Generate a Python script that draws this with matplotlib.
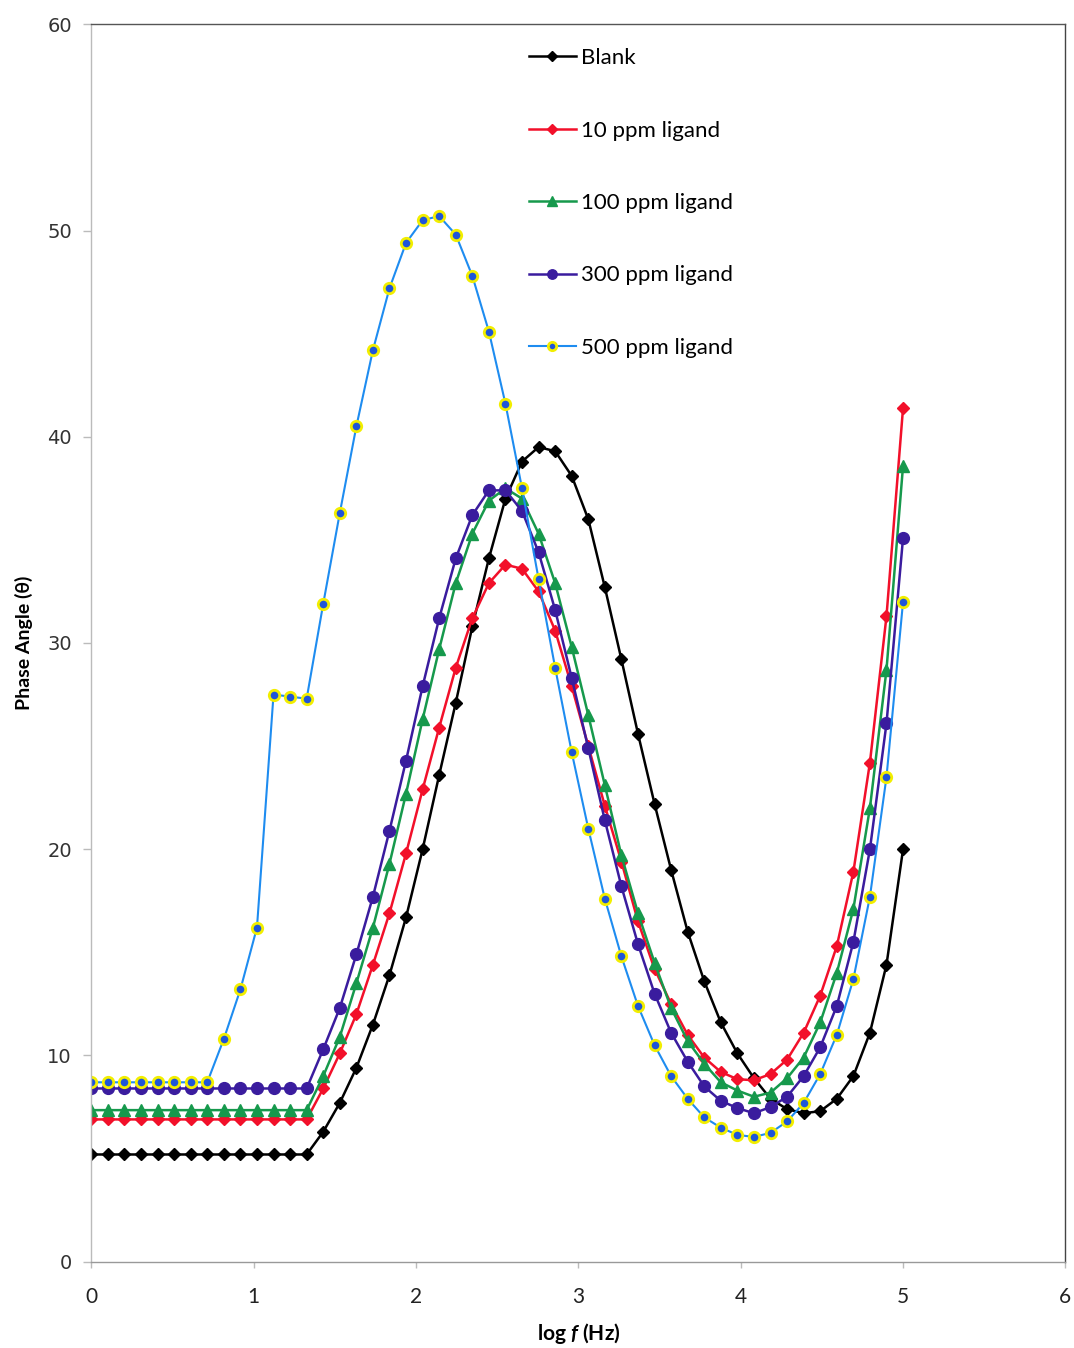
import numpy as np
import matplotlib
matplotlib.use("Agg")
import matplotlib.pyplot as plt

# ---------------- data ----------------
log_f = np.linspace(0, 5, 50)

blank = [5.2]*14 + [6.3, 7.7, 9.4, 11.5, 13.9, 16.7, 20.0, 23.6, 27.1, 30.8,
                    34.1, 37.0, 38.8, 39.5, 39.3, 38.1, 36.0, 32.7, 29.2, 25.6,
                    22.2, 19.0, 16.0, 13.6, 11.6, 10.1, 8.9, 7.9, 7.4, 7.2,
                    7.3, 7.9, 9.0, 11.1, 14.4, 20.0]
ppm10 = [6.9]*14 + [8.4, 10.1, 12.0, 14.4, 16.9, 19.8, 22.9, 25.9, 28.8, 31.2,
                    32.9, 33.8, 33.6, 32.5, 30.6, 27.9, 25.0, 22.1, 19.4, 16.5,
                    14.2, 12.5, 11.0, 9.9, 9.2, 8.85, 8.8, 9.1, 9.8, 11.1,
                    12.9, 15.3, 18.9, 24.2, 31.3, 41.4]
ppm100 = [7.35]*14 + [9.0, 10.9, 13.5, 16.2, 19.3, 22.7, 26.3, 29.7, 32.9, 35.3,
                      36.9, 37.5, 37.0, 35.3, 32.9, 29.8, 26.5, 23.1, 19.7, 16.9,
                      14.5, 12.3, 10.7, 9.6, 8.7, 8.3, 8.0, 8.2, 8.9, 9.9,
                      11.6, 14.0, 17.1, 22.0, 28.7, 38.6]
ppm300 = [8.4]*14 + [10.3, 12.3, 14.9, 17.7, 20.9, 24.3, 27.9, 31.2, 34.1, 36.2,
                     37.4, 37.4, 36.4, 34.4, 31.6, 28.3, 24.9, 21.4, 18.2, 15.4,
                     13.0, 11.1, 9.7, 8.5, 7.8, 7.45, 7.2, 7.5, 8.0, 9.0,
                     10.4, 12.4, 15.5, 20.0, 26.1, 35.1]
ppm500 = [8.7]*8 + [10.8, 13.2, 16.2, 27.5, 27.4, 27.3,
                    31.9, 36.3, 40.5, 44.2, 47.2, 49.4, 50.5, 50.7, 49.8, 47.8,
                    45.1, 41.6, 37.5, 33.1, 28.8, 24.7, 21.0, 17.6, 14.8, 12.4,
                    10.5, 9.0, 7.9, 7.0, 6.5, 6.15, 6.05, 6.25, 6.8, 7.7,
                    9.1, 11.0, 13.7, 17.7, 23.5, 32.0]

labels = ["Blank", "10 ppm ligand", "100 ppm ligand", "300 ppm ligand", "500 ppm ligand"]
x_ticks = [0, 1, 2, 3, 4, 5, 6]
y_ticks = [0, 10, 20, 30, 40, 50, 60]

# ---------------- figure ----------------
plt.rcParams['mathtext.fontset'] = 'custom'
plt.rcParams['mathtext.it'] = 'Lato:italic:bold'
plt.rcParams['mathtext.rm'] = 'Lato:bold'

fig = plt.figure(figsize=(10.74, 13.48), dpi=100)
ax = fig.add_axes([0.085, 0.064, 0.907, 0.918])

styles = [
    dict(color='black', marker='D', ms=6.5, mfc='black', mec='black', lw=1.8),
    dict(color='#F2102A', marker='D', ms=6, mfc='#F2102A', mec='#F2102A', lw=1.8),
    dict(color='#16994C', marker='^', ms=9, mfc='#16994C', mec='#16994C', lw=1.8),
    dict(color='#3A1C9E', marker='o', ms=8.5, mfc='#3A1C9E', mec='#3A1C9E', lw=1.8),
    dict(color='#1E8CF0', marker='o', ms=7.5, mfc='#1F55D8', mec='#F2EE00', mew=2.0, lw=1.5),
]
series = [blank, ppm10, ppm100, ppm300, ppm500]
for y, lab, st in zip(series, labels, styles):
    ax.plot(log_f, y, label=lab, **st)

ax.set_xlim(0, 6)
ax.set_ylim(0, 60)
ax.set_xticks(x_ticks)
ax.set_yticks(y_ticks)
ax.tick_params(axis='y', direction='out', length=6, width=1, color='#bbbbbb',
               labelsize=14, labelcolor='#333333', pad=8)
ax.tick_params(axis='x', direction='out', length=4, width=1, color='#bbbbbb',
               labelsize=15, labelcolor='#222222', pad=14)
for lbl in ax.get_yticklabels():
    lbl.set_fontfamily('DejaVu Sans')
for lbl in ax.get_xticklabels():
    lbl.set_fontfamily('Lato')

ax.spines['left'].set_color('#bbbbbb')
ax.spines['bottom'].set_color('#999999')
ax.spines['top'].set_color('#555555')
ax.spines['right'].set_color('#444444')
for s in ax.spines.values():
    s.set_linewidth(1.0)

ax.set_ylabel('Phase Angle (θ)', fontsize=14, fontweight='bold',
              family=['Lato', 'DejaVu Sans'], labelpad=10)
ax.set_xlabel(r'log $\mathit{f}$ (Hz)', fontsize=15, fontweight='bold',
              family='Lato', labelpad=10)

leg = ax.legend(loc='upper left', bbox_to_anchor=(518/1074, 1 - 37/1348),
                bbox_transform=fig.transFigure, frameon=False,
                labelspacing=2.36, handlelength=2.1, handletextpad=0.25,
                borderpad=0, prop={'family': 'Lato', 'size': 16})
for h in leg.legend_handles:
    h.set_markersize(h.get_markersize() * 0.8)

fig.savefig('out.png', dpi=100)
